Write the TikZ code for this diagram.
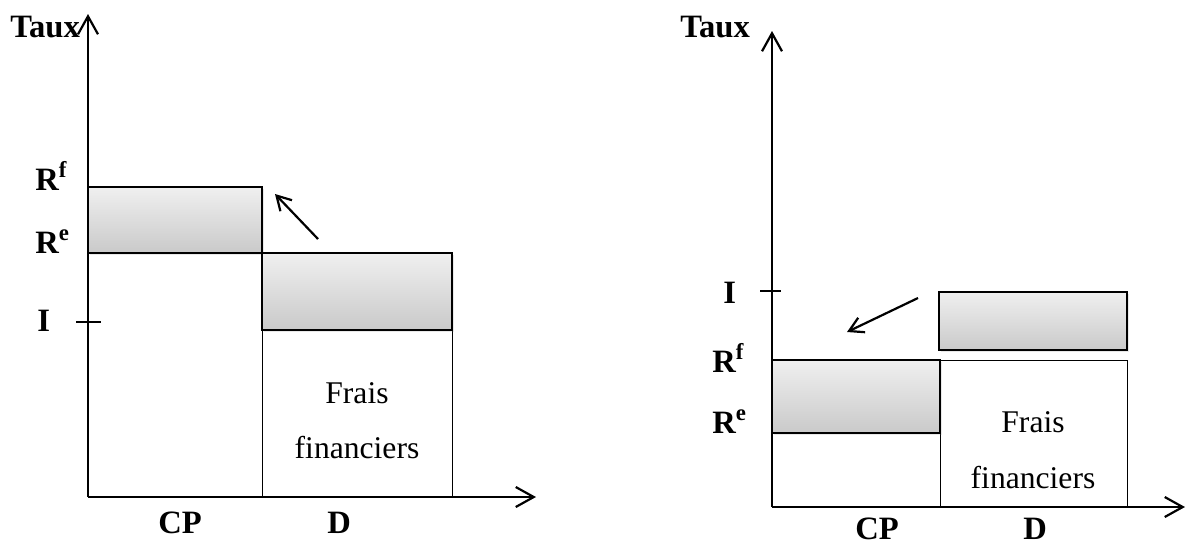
\documentclass[tikz,border=0pt]{standalone}
\usepackage{fontspec}
\setmainfont{Liberation Serif}
\usetikzlibrary{arrows.meta,shadows}
\begin{document}
\begin{tikzpicture}[x=0.5pt,y=-0.5pt,
  axis/.style={line width=1.3pt,-{Straight Barb[length=9pt,width=10pt,line width=1.1pt]}},
  move/.style={line width=1.1pt,-{Straight Barb[length=7pt,width=8pt,line width=1.1pt]}},
  band/.style={draw,line width=1.1pt,top color=gray!12,bottom color=gray!42,
    drop shadow={opacity=0.18,shadow xshift=1pt,shadow yshift=-1pt}},
  cost/.style={draw,line width=0.5pt,fill=white},
  lbl/.style={inner sep=0pt,anchor=base west,font=\fontsize{16.3pt}{19pt}\selectfont\bfseries},
  txt/.style={inner sep=0pt,anchor=base,font=\fontsize{15.8pt}{19pt}\selectfont},
  tick/.style={line width=0.7pt}]
\useasboundingbox (0,0) rectangle (1187,547);

% ---------- left panel: cost of equity above cost of debt ----------
\coordinate (L0) at (88,497);
\coordinate (Ly) at (88,14);
\coordinate (Lx) at (536,497);
\draw[cost] (262,330) rectangle (452,497);
\draw[band] (88,187) rectangle (262,253);
\draw[band] (262,253) rectangle (452,330);
\draw[axis] (L0) -- (Ly);
\draw[axis] (L0) -- (Lx);
\coordinate (LtA) at (76,322);
\coordinate (LtB) at (101,322);
\draw[tick] (LtA) -- (LtB);
\coordinate (LmA) at (318,239);
\coordinate (LmB) at (275,194);
\draw[move] (LmA) -- (LmB);

\node[lbl] (Ltaux) at (10,37) {Taux};
\node[lbl] (LRf) at (35,190) {R\textsuperscript{f}};
\node[lbl] (LRe) at (35,253) {R\textsuperscript{e}};
\node[lbl] (LI) at (37,331) {I};
\node[lbl] (LCP) at (158,533) {CP};
\node[lbl] (LD) at (327,533) {D};
\node[txt] (Lfr1) at (357,403) {Frais};
\node[txt] (Lfr2) at (357,458) {financiers};

% ---------- right panel: cost of debt above cost of equity ----------
\coordinate (R0) at (772,507);
\coordinate (Ry) at (772,31);
\coordinate (Rx) at (1185,507);
\draw[cost] (940,360) rectangle (1127,507);
\draw[band] (772,360) rectangle (940,433);
\draw[band] (939,292) rectangle (1127,350);
\draw[axis] (R0) -- (Ry);
\draw[axis] (R0) -- (Rx);
\coordinate (RtA) at (760,291);
\coordinate (RtB) at (781,291);
\draw[tick] (RtA) -- (RtB);
\coordinate (RmA) at (918,298);
\coordinate (RmB) at (847,332);
\draw[move] (RmA) -- (RmB);

\node[lbl] (Rtaux) at (680,37) {Taux};
\node[lbl] (RI) at (723,303) {I};
\node[lbl] (RRf) at (712,372) {R\textsuperscript{f}};
\node[lbl] (RRe) at (712,433) {R\textsuperscript{e}};
\node[lbl] (RCP) at (855,539) {CP};
\node[lbl] (RD) at (1023,539) {D};
\node[txt] (Rfr1) at (1033,432) {Frais};
\node[txt] (Rfr2) at (1033,488) {financiers};
\end{tikzpicture}
\end{document}
